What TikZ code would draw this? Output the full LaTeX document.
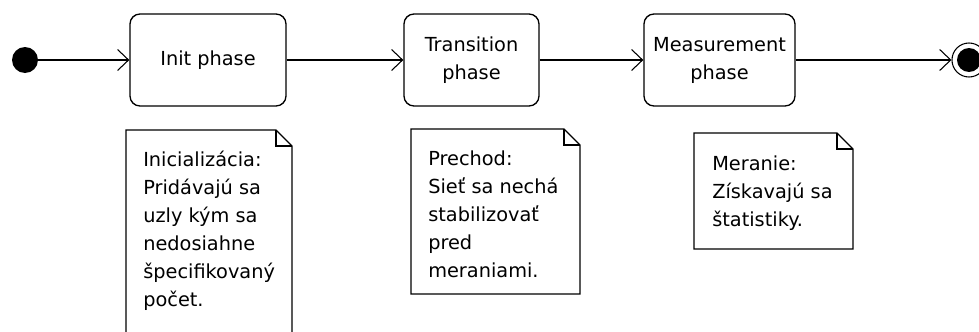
\documentclass[tikz,border=0pt]{standalone}
\usepackage{fontspec}
\setmainfont{DejaVu Sans}
\usetikzlibrary{arrows.meta}

\tikzset{
  phasebox/.style={draw, line width=1pt, rounded corners=7.5pt, minimum height=69pt,
    inner sep=0pt, align=center, font=\fontsize{14.5}{21}\selectfont},
  notetext/.style={align=left, inner sep=0pt, anchor=base west,
    font=\fontsize{14.5}{21}\selectfont},
  noteline/.style={line width=1pt},
  flow/.style={line width=0.8pt, -{Straight Barb[length=8.25pt, width=15.75pt]}}
}

\begin{document}
\begin{tikzpicture}[x=0.75pt, y=-0.75pt]
    \useasboundingbox (0,0) rectangle (979,332);
    % start and end states
    \node[circle, fill=black, minimum size=19.5pt, inner sep=0pt] (start) at (25,60) {};
    \node[circle, draw, line width=0.8pt, minimum size=25.5pt, inner sep=0pt] (stop) at (969,60) {};
    \node[circle, fill=black, minimum size=18pt, inner sep=0pt] (stopdot) at (969,60) {};
    % phases
    \node[phasebox, minimum width=117pt] (init) at (208,60) {Init phase};
    \node[phasebox, minimum width=101.25pt] (trans) at (471.5,60) {Transition\\phase};
    \node[phasebox, minimum width=113.25pt] (meas) at (719.5,60) {Measurement\\phase};
    % transitions
    \draw[flow] (start) -- (init);
    \draw[flow] (init) -- (trans);
    \draw[flow] (trans) -- (meas);
    \draw[flow] (meas) -- (stop);
    % notes (the first one runs past the bottom edge), text placed by its last baseline
    \draw[noteline] (126,332) -- (126,130) -- (276,130) -- (292,146) -- (292,332);
    \draw[noteline] (276,130) -- (276,146) -- (292,146);
    \node[notetext] (initnote) at (143,306) {Inicializácia:\\Pridávajú sa\\uzly kým sa\\nedosiahne\\špecifikovaný\\počet.};
    \draw[noteline] (411,129) -- (564,129) -- (580,145) -- (580,294) -- (411,294) -- cycle;
    \draw[noteline] (564,129) -- (564,145) -- (580,145);
    \node[notetext] (transnote) at (428,277) {Prechod:\\Sieť sa nechá\\stabilizovať\\pred\\meraniami.};
    \draw[noteline] (694,133) -- (837,133) -- (853,149) -- (853,249) -- (694,249) -- cycle;
    \draw[noteline] (837,133) -- (837,149) -- (853,149);
    \node[notetext] (measnote) at (712,226) {Meranie:\\Získavajú sa\\štatistiky.};
\end{tikzpicture}
\end{document}
